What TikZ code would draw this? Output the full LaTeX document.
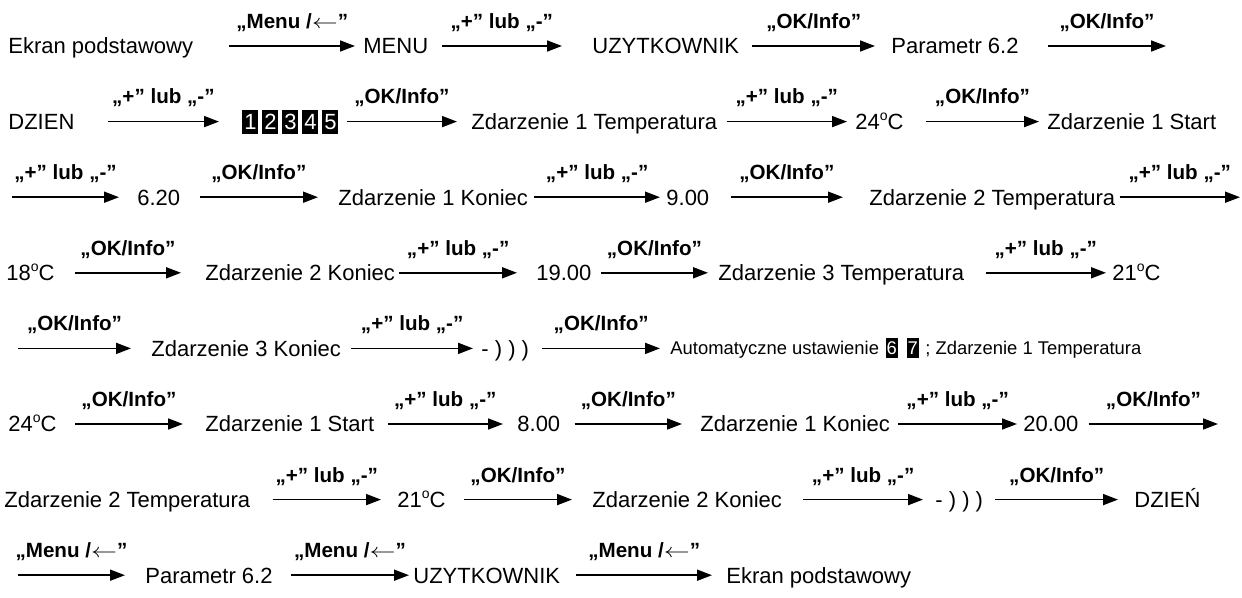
\documentclass[tikz,border=0pt]{standalone}
\usepackage{fontspec}
\usepackage{graphicx}
\setmainfont{Liberation Sans}
\usetikzlibrary{arrows.meta}

% key labels written above the arrows
\newcommand\kMenu{„Menu /\scalebox{1.3}[1]{$\leftarrow$}”}
\newcommand\kPM{„+” lub „-”}
\newcommand\kOK{„OK/Info”}
% small raised "o" used as the degree mark
\newcommand\degO{\raisebox{4.6pt}{\fontsize{7pt}{8pt}\selectfont o}}

\tikzset{
  txt/.style={anchor=west, inner sep=0pt, font=\fontsize{11pt}{13pt}\selectfont,
              text height=7.9pt, text depth=0pt},
  midtxt/.style={txt, font=\fontsize{9.2pt}{11pt}\selectfont, text height=6.6pt},
  lbl/.style={inner sep=0pt, font=\fontsize{10.3pt}{12pt}\selectfont\bfseries,
              text height=7.4pt, text depth=0pt, yshift=12.5pt},
  arr/.style={line width=0.85pt, -{Triangle[length=7.5pt,width=5.5pt]}},
  dbox/.style={anchor=west, fill=black, text=white, inner sep=0pt,
               minimum width=8pt, minimum height=12pt,
               font=\fontsize{11pt}{13pt}\selectfont, text height=7.9pt, text depth=0pt},
  sbox/.style={dbox, minimum width=6pt, minimum height=10pt,
               font=\fontsize{9.2pt}{11pt}\selectfont, text height=6.6pt}
}

\begin{document}
\begin{tikzpicture}[x=0.5pt,y=-0.5pt]
\useasboundingbox (0,0) rectangle (1242,598);
\fill[white] (0,0) rectangle (1242,598);

% ---- row 1
\node[txt] (ekran1) at (8,46) {Ekran podstawowy};
\node[txt] (menu)   at (363,46) {MENU};
\node[txt] (uzyt1)  at (592,46) {UZYTKOWNIK};
\node[txt] (param1) at (891,46) {Parametr 6.2};
\coordinate (r1end) at (1166,46);
\draw[arr] ([xshift=18pt]ekran1.east) -- ([xshift=-4pt]menu.west) node[lbl,midway] {\kMenu};
\draw[arr] ([xshift=6.5pt]menu.east) -- ([xshift=-15pt]uzyt1.west) node[lbl,midway] {\kPM};
\draw[arr] ([xshift=6.5pt]uzyt1.east) -- ([xshift=-8pt]param1.west) node[lbl,midway] {\kOK};
\draw[arr] ([xshift=14.5pt]param1.east) -- (r1end) node[lbl,midway] {\kOK};

% ---- row 2
\node[txt]  (dzien1) at (8,121.6) {DZIEN};
\node[dbox] (d1) at (242,121.6) {1};
\node[dbox] (d2) at (262,121.6) {2};
\node[dbox] (d3) at (282,121.6) {3};
\node[dbox] (d4) at (302,121.6) {4};
\node[dbox] (d5) at (322,121.6) {5};
\node[txt]  (z1t)  at (471,121.6) {Zdarzenie 1 Temperatura};
\node[txt]  (t24a) at (855,121.6) {24\degO C};
\node[txt]  (z1s)  at (1047,121.6) {Zdarzenie 1 Start};
\draw[arr] ([xshift=16.5pt]dzien1.east) -- ([xshift=-11.5pt]d1.west) node[lbl,midway] {\kPM};
\draw[arr] ([xshift=4pt]d5.east) -- ([xshift=-7pt]z1t.west) node[lbl,midway] {\kOK};
\draw[arr] ([xshift=4.5pt]z1t.east) -- ([xshift=-4pt]t24a.west) node[lbl,midway] {\kPM};
\draw[arr] ([xshift=11pt]t24a.east) -- ([xshift=-4pt]z1s.west) node[lbl,midway] {\kOK};

% ---- row 3
\coordinate (r3start) at (12,197.2);
\node[txt] (t620) at (137,197.2) {6.20};
\node[txt] (z1k)  at (338,197.2) {Zdarzenie 1 Koniec};
\node[txt] (t900) at (666,197.2) {9.00};
\node[txt] (z2t)  at (869,197.2) {Zdarzenie 2 Temperatura};
\coordinate (r3end) at (1240,197.2);
\draw[arr] (r3start) -- ([xshift=-9pt]t620.west) node[lbl,midway] {\kPM};
\draw[arr] ([xshift=9.5pt]t620.east) -- ([xshift=-10pt]z1k.west) node[lbl,midway] {\kOK};
\draw[arr] ([xshift=3pt]z1k.east) -- ([xshift=-3pt]t900.west) node[lbl,midway] {\kPM};
\draw[arr] ([xshift=10.5pt]t900.east) -- ([xshift=-13pt]z2t.west) node[lbl,midway] {\kOK};
\draw[arr] ([xshift=2pt]z2t.east) -- (r3end) node[lbl,midway] {\kPM};

% ---- row 4
\node[txt] (t18)   at (6,272.8) {18\degO C};
\node[txt] (z2k)   at (205,272.8) {Zdarzenie 2 Koniec};
\node[txt] (t1900) at (536,272.8) {19.00};
\node[txt] (z3t)   at (718,272.8) {Zdarzenie 3 Temperatura};
\node[txt] (t21a)  at (1112,272.8) {21\degO C};
\draw[arr] ([xshift=10pt]t18.east) -- ([xshift=-12pt]z2k.west) node[lbl,midway] {\kOK};
\draw[arr] ([xshift=2pt]z2k.east) -- ([xshift=-9.5pt]t1900.west) node[lbl,midway] {\kPM};
\draw[arr] ([xshift=4.5pt]t1900.east) -- ([xshift=-5pt]z3t.west) node[lbl,midway] {\kOK};
\draw[arr] ([xshift=10.5pt]z3t.east) -- ([xshift=-3pt]t21a.west) node[lbl,midway] {\kPM};

% ---- row 5
\coordinate (r5start) at (18,348.4);
\node[txt] (z3k)   at (151,348.4) {Zdarzenie 3 Koniec};
\node[txt] (wave1) at (481,348.4) {- ) ) )};
\node[midtxt] (auto) at (670,348.4) {Automatyczne ustawienie};
\node[sbox] (d6) at ([xshift=3pt]auto.east) {6};
\node[sbox] (d7) at ([xshift=4pt]d6.east) {7};
\node[midtxt] (z1tb) at ([xshift=3pt]d7.east) {; Zdarzenie 1 Temperatura};
\draw[arr] (r5start) -- ([xshift=-10pt]z3k.west) node[lbl,midway] {\kOK};
\draw[arr] ([xshift=5pt]z3k.east) -- ([xshift=-4pt]wave1.west) node[lbl,midway] {\kPM};
\draw[arr] ([xshift=6.5pt]wave1.east) -- ([xshift=-5pt]auto.west) node[lbl,midway] {\kOK};

% ---- row 6
\node[txt] (t24b)  at (8,424) {24\degO C};
\node[txt] (z1s2)  at (205,424) {Zdarzenie 1 Start};
\node[txt] (t800)  at (517,424) {8.00};
\node[txt] (z1k2)  at (700,424) {Zdarzenie 1 Koniec};
\node[txt] (t2000) at (1023,424) {20.00};
\coordinate (r6end) at (1218,424);
\draw[arr] ([xshift=9pt]t24b.east) -- ([xshift=-11pt]z1s2.west) node[lbl,midway] {\kOK};
\draw[arr] ([xshift=6.5pt]z1s2.east) -- ([xshift=-7pt]t800.west) node[lbl,midway] {\kPM};
\draw[arr] ([xshift=7pt]t800.east) -- ([xshift=-9pt]z1k2.west) node[lbl,midway] {\kOK};
\draw[arr] ([xshift=4pt]z1k2.east) -- ([xshift=-3pt]t2000.west) node[lbl,midway] {\kPM};
\draw[arr] ([xshift=5pt]t2000.east) -- (r6end) node[lbl,midway] {\kOK};

% ---- row 7
\node[txt] (z2t2)   at (4,499.6) {Zdarzenie 2 Temperatura};
\node[txt] (t21b)   at (397,499.6) {21\degO C};
\node[txt] (z2k2)   at (592,499.6) {Zdarzenie 2 Koniec};
\node[txt] (wave2)  at (935,499.6) {- ) ) )};
\node[txt] (dzien2) at (1134,499.6) {DZIEŃ};
\draw[arr] ([xshift=11pt]z2t2.east) -- ([xshift=-8pt]t21b.west) node[lbl,midway] {\kPM};
\draw[arr] ([xshift=9pt]t21b.east) -- ([xshift=-10pt]z2k2.west) node[lbl,midway] {\kOK};
\draw[arr] ([xshift=10.5pt]z2k2.east) -- ([xshift=-6pt]wave2.west) node[lbl,midway] {\kPM};
\draw[arr] ([xshift=6pt]wave2.east) -- ([xshift=-8pt]dzien2.west) node[lbl,midway] {\kOK};

% ---- row 8
\coordinate (r8start) at (18,575.2);
\node[txt] (param2) at (145,575.2) {Parametr 6.2};
\node[txt] (uzyt2)  at (413,575.2) {UZYTKOWNIK};
\node[txt] (ekran2) at (726,575.2) {Ekran podstawowy};
\draw[arr] (r8start) -- ([xshift=-10pt]param2.west) node[lbl,midway] {\kMenu};
\draw[arr] ([xshift=9pt]param2.east) -- ([xshift=-2pt]uzyt2.west) node[lbl,midway] {\kMenu};
\draw[arr] ([xshift=8pt]uzyt2.east) -- ([xshift=-7pt]ekran2.west) node[lbl,midway] {\kMenu};
\end{tikzpicture}
\end{document}
